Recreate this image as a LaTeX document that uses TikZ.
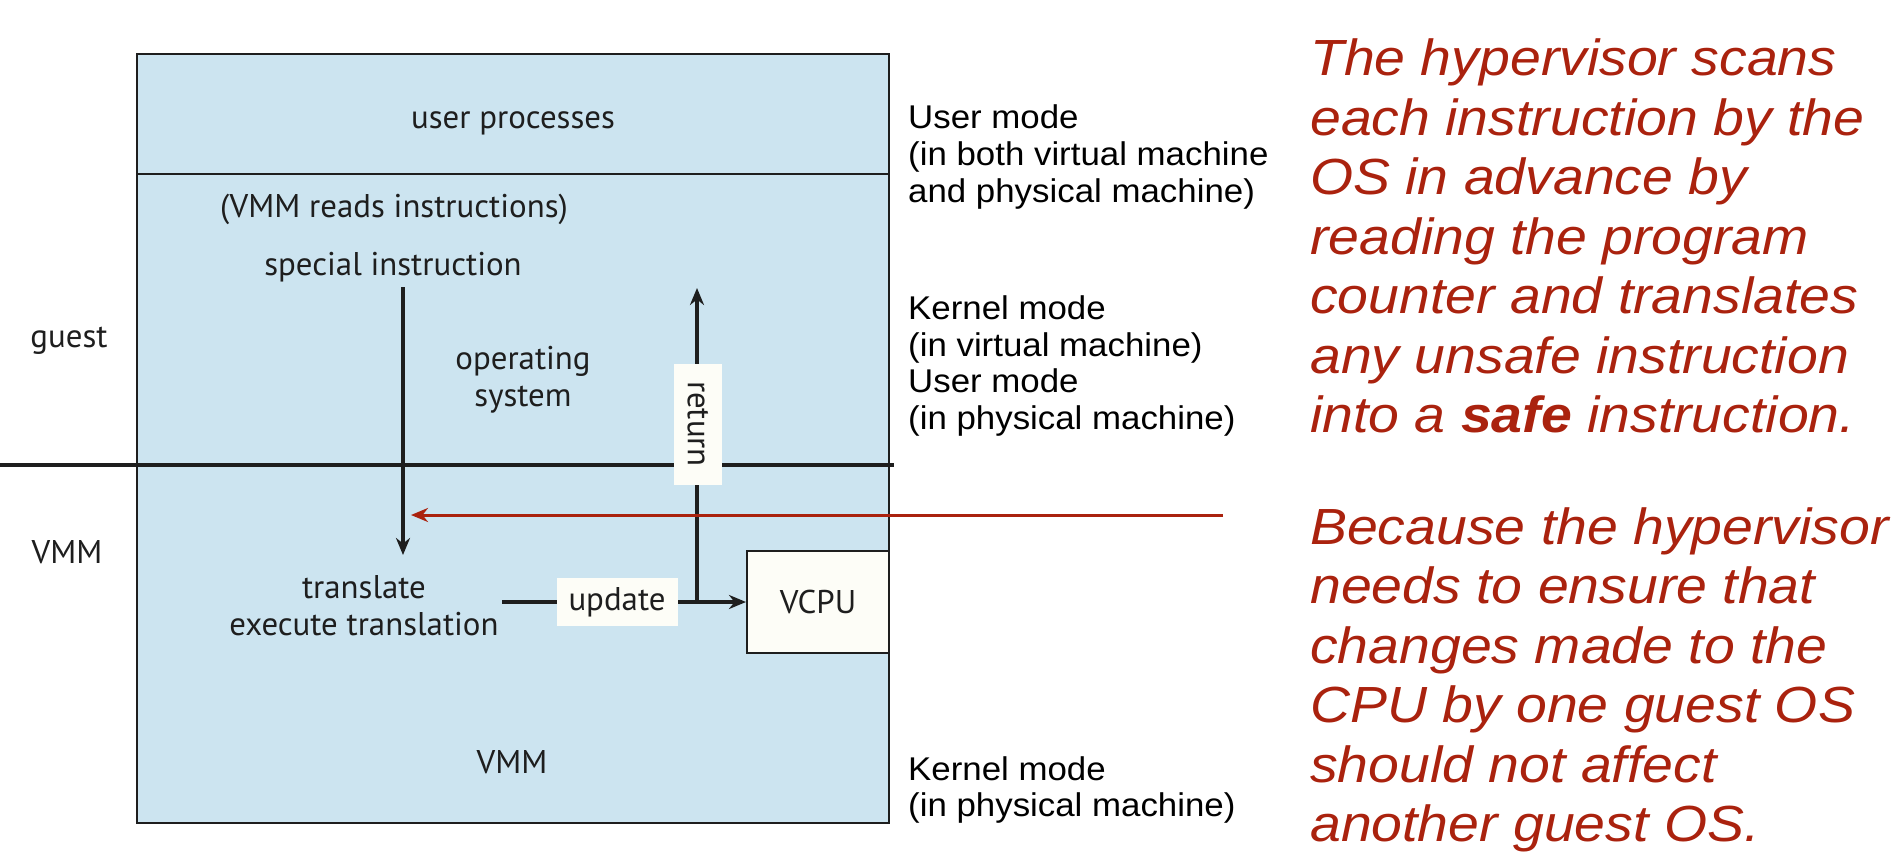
\documentclass[tikz,border=0pt]{standalone}
\usepackage{fontspec}
\usetikzlibrary{arrows.meta, positioning}
\newfontfamily\figfont{PT Sans}
\newfontfamily\modefont[FakeStretch=1.06]{Liberation Sans}
\newfontfamily\notefont[FakeStretch=1.09]{Liberation Sans}
\definecolor{vmmblue}{RGB}{204,228,240}
\definecolor{notered}{RGB}{170,34,14}
\definecolor{paper}{RGB}{253,253,247}
\definecolor{ink}{RGB}{30,30,30}
\tikzset{
	fig/.style={font=\figfont\fontsize{33}{37}\selectfont, text=ink, align=center, inner sep=0pt},
	mode/.style={font=\modefont\fontsize{33}{37}\selectfont, align=left, anchor=west, inner sep=0pt},
	note/.style={font=\notefont\itshape\fontsize{51}{59.7}\selectfont, text=notered, align=left, anchor=west, inner sep=0pt},
	paperbox/.style={fill=paper, inner sep=0pt},
	arr/.style={draw=ink, line width=3.5bp, -{Stealth[length=17bp,width=14bp]}},
}
\begin{document}
\begin{tikzpicture}[x=1bp, y=-1bp]
	\useasboundingbox (0,0) rectangle (1902,867);
	\coordinate (tl) at (137,54);
	\coordinate (br) at (889,823);
	\draw[ink, line width=2bp, fill=vmmblue] (tl) rectangle (br);
	\draw[ink, line width=2bp] (137,174) -- (889,174);
	\draw[ink, line width=3.5bp] (0,465) -- (894,465);

	\node[fig] (userproc) at (513,123) {user processes};
	\node[fig] (reads) at (394,209) {(VMM reads instructions)};
	\node[fig] (special) at (393,267) {special instruction};
	\node[fig] (os) at (523,380) {operating\\system};
	\node[fig] (transl) at (364,606) {translate\\execute translation};
	\node[fig] (vmm) at (512,762) {VMM};
	\node[fig] (guest) at (69,341) {guest};
	\node[fig] (vmmside) at (67,552) {VMM};
	\node[fig, paperbox, draw=ink, line width=2bp, minimum width=142bp, minimum height=102bp] (vcpu) at (818,602) {VCPU};

	\coordinate (dtop) at (403,287);
	\coordinate (dbot) at (403,555);
	\draw[arr] (dtop) -- (dbot);
	\coordinate (rbot) at (697,602);
	\coordinate (rtop) at (697,288);
	\draw[arr] (rbot) -- (rtop);
	\coordinate (ustart) at (502,602);
	\draw[arr] (ustart) -- (vcpu.west);
	\node[fig, paperbox, minimum width=121bp, minimum height=48bp] (update) at (617,602) {update};
	\node[fig, paperbox, rotate=-90, minimum width=121bp, minimum height=48bp] (return) at (698,424) {return};

	% hypervisor traps here
	\coordinate (redstart) at (1223,515);
	\coordinate (redtip) at (411,515);
	\draw[notered, line width=3bp, -{Stealth[length=17bp,width=14bp]}] (redstart) -- (redtip);

	\node[mode] (usermode) at (908,157) {User mode\\(in both virtual machine\\and physical machine)};
	\node[mode] (kernelmode) at (908,366) {Kernel mode\\(in virtual machine)\\User mode\\(in physical machine)};
	\node[mode] (vmmmode) at (908,790) {Kernel mode\\(in physical machine)};

	\node[note] (scan) at (1310,236) {The hypervisor scans\\each instruction by the\\OS in advance by\\reading the program\\counter and translates\\any unsafe instruction\\into a {\bfseries safe} instruction.};
	\node[note] (ensure) at (1310,680) {Because the hypervisor\\needs to ensure that\\changes made to the\\CPU by one guest OS\\should not affect\\another guest OS.};
\end{tikzpicture}
\end{document}
